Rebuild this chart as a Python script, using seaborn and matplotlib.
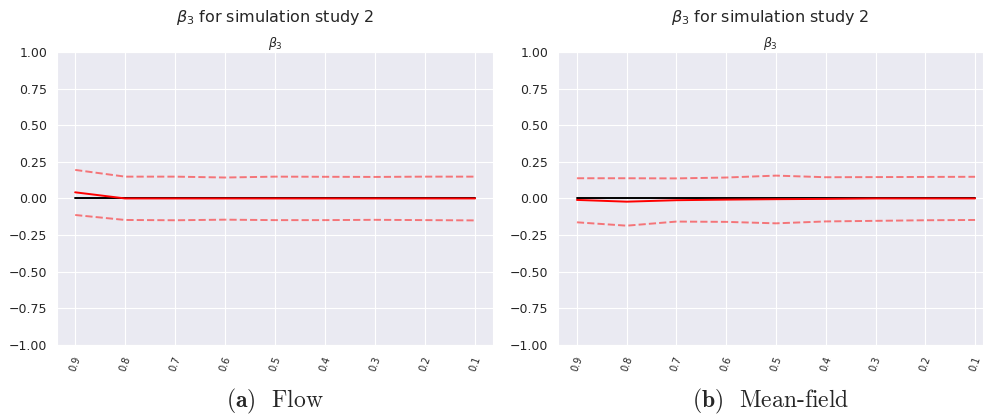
import pandas as pd
import matplotlib.pyplot as plt
import seaborn as sns
import numpy as np

# --- data ---
levels = ['0.9', '0.8', '0.7', '0.6', '0.5', '0.4', '0.3', '0.2', '0.1']
truth = [0, 0, 0, 0, 0, 0, 0, 0, 0]

flow_mean = [0.042, 0.0, 0.0, 0.0, 0.0, 0.0, 0.0, 0.0, 0.0]
flow_upper = [0.195, 0.149, 0.149, 0.143, 0.149, 0.148, 0.147, 0.149, 0.149]
flow_lower = [-0.113, -0.147, -0.149, -0.145, -0.148, -0.148, -0.146, -0.148, -0.150]

mf_mean = [-0.01, -0.022, -0.012, -0.008, -0.005, -0.003, 0.0, 0.0, 0.0]
mf_upper = [0.138, 0.138, 0.137, 0.143, 0.156, 0.145, 0.146, 0.147, 0.148]
mf_lower = [-0.163, -0.186, -0.158, -0.160, -0.170, -0.157, -0.153, -0.149, -0.147]

panels = [
    ('Flow', '(a)', flow_mean, flow_upper, flow_lower, (-0.36, 8.36)),
    ('Mean-field', '(b)', mf_mean, mf_upper, mf_lower, (-0.38, 8.16)),
]

sns.set_style('darkgrid')
plt.rcParams['mathtext.fontset'] = 'dejavusans'

fig = plt.figure(figsize=(9.85, 4.2), dpi=100)
axes = [fig.add_axes([0.058, 0.179, 0.4426, 0.697]),
        fig.add_axes([0.5665, 0.179, 0.4315, 0.697])]

for ax, (name, tag, mean, upper, lower, xl) in zip(axes, panels):
    df = pd.DataFrame({'pos': np.arange(len(levels)), 'truth': truth,
                       'mean': mean, 'upper': upper, 'lower': lower})
    sns.lineplot(data=df, x='pos', y='truth', color='black', lw=1.4, ax=ax)
    sns.lineplot(data=df, x='pos', y='mean', color='red', lw=1.4, ax=ax)
    sns.lineplot(data=df, x='pos', y='upper', color='red', alpha=0.5, lw=1.4, ls='--', ax=ax)
    sns.lineplot(data=df, x='pos', y='lower', color='red', alpha=0.5, lw=1.4, ls='--', ax=ax)

    ax.set_ylim(-1, 1)
    ax.set_yticks(np.arange(-1, 1.01, 0.25))
    ax.set_yticklabels([f'{v:.2f}'.replace('-', '\u2212') for v in np.arange(-1, 1.01, 0.25)], fontsize=9)
    ax.set_xlim(*xl)
    ax.set_xticks(np.arange(len(levels)))
    ax.set_xticklabels(levels, rotation=70, fontsize=7)
    ax.set_xlabel('')
    ax.set_ylabel('')
    ax.set_title(r'$\beta_3$', fontsize=9, pad=4)
    ax.text(0.5, 1.085, r'$\beta_3$ for simulation study 2', transform=ax.transAxes,
            ha='center', va='bottom', fontsize=11.5, color='#262626')

    # sub-figure caption
    box = ax.get_position()
    fig.text(box.x0 + box.width / 2, 0.045, r'$\mathbf{' + tag + r'}$  ' + name,
             ha='center', va='center', fontsize=17, family='cmr10', math_fontfamily='cm')

plt.savefig('out.png', dpi=100)
